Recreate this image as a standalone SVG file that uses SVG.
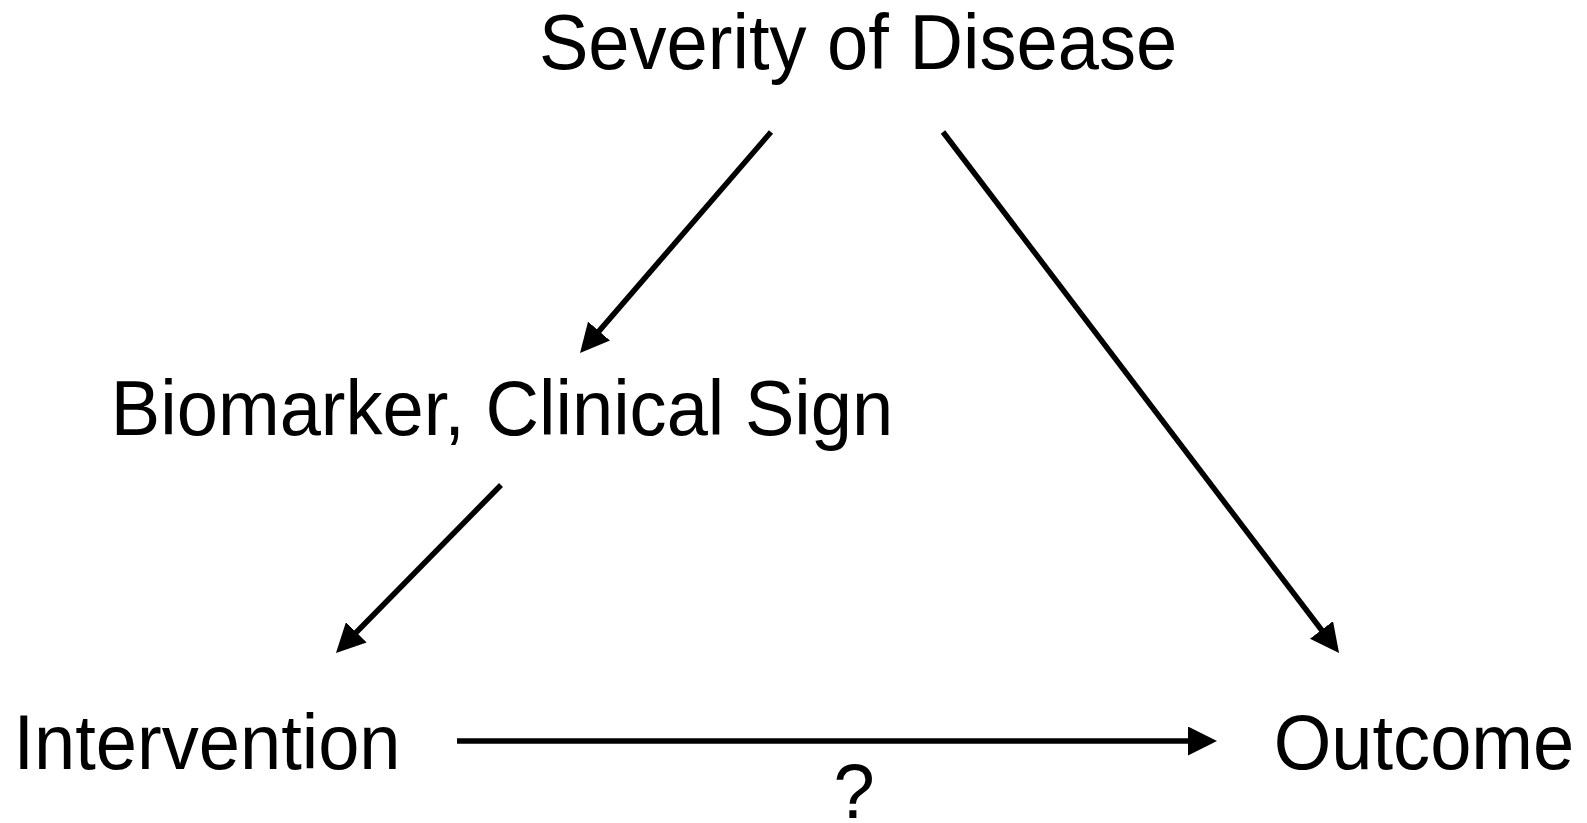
<svg xmlns="http://www.w3.org/2000/svg" width="1587" height="823" viewBox="0 0 1587 823">
<style>
text{font-family:"Liberation Sans",Arial,sans-serif;font-size:78px;fill:#000;text-anchor:middle}
.edge{stroke:#000;stroke-width:5.5;fill:none;marker-end:url(#ah)}
</style>
<defs>
<marker id="ah" viewBox="0 0 29 29" markerWidth="29" markerHeight="29" refX="2" refY="14.5" orient="auto" markerUnits="userSpaceOnUse">
<path d="M0,0 L29,14.5 L0,29 z" fill="#000"/>
</marker>
</defs>
<rect width="1587" height="823" fill="#fff"/>
<g id="severity"><text transform="translate(858,69) scale(0.95,1)">Severity of Disease</text></g>
<g id="biomarker"><text transform="translate(502,435) scale(0.95,1)">Biomarker, Clinical Sign</text></g>
<g id="intervention"><text transform="translate(207,769) scale(0.95,1)">Intervention</text></g>
<g id="outcome"><text transform="translate(1424,769) scale(0.95,1)">Outcome</text></g>
<g id="connectors">
<line class="edge" x1="771" y1="132" x2="597.7" y2="332.6"/>
<line class="edge" x1="943" y1="132" x2="1322.7" y2="631.5"/>
<line class="edge" x1="501" y1="485" x2="354.9" y2="633.7"/>
<line class="edge" x1="457" y1="741" x2="1190" y2="741"/>
<text transform="translate(854,818) scale(0.95,1)">?</text>
</g>
</svg>
